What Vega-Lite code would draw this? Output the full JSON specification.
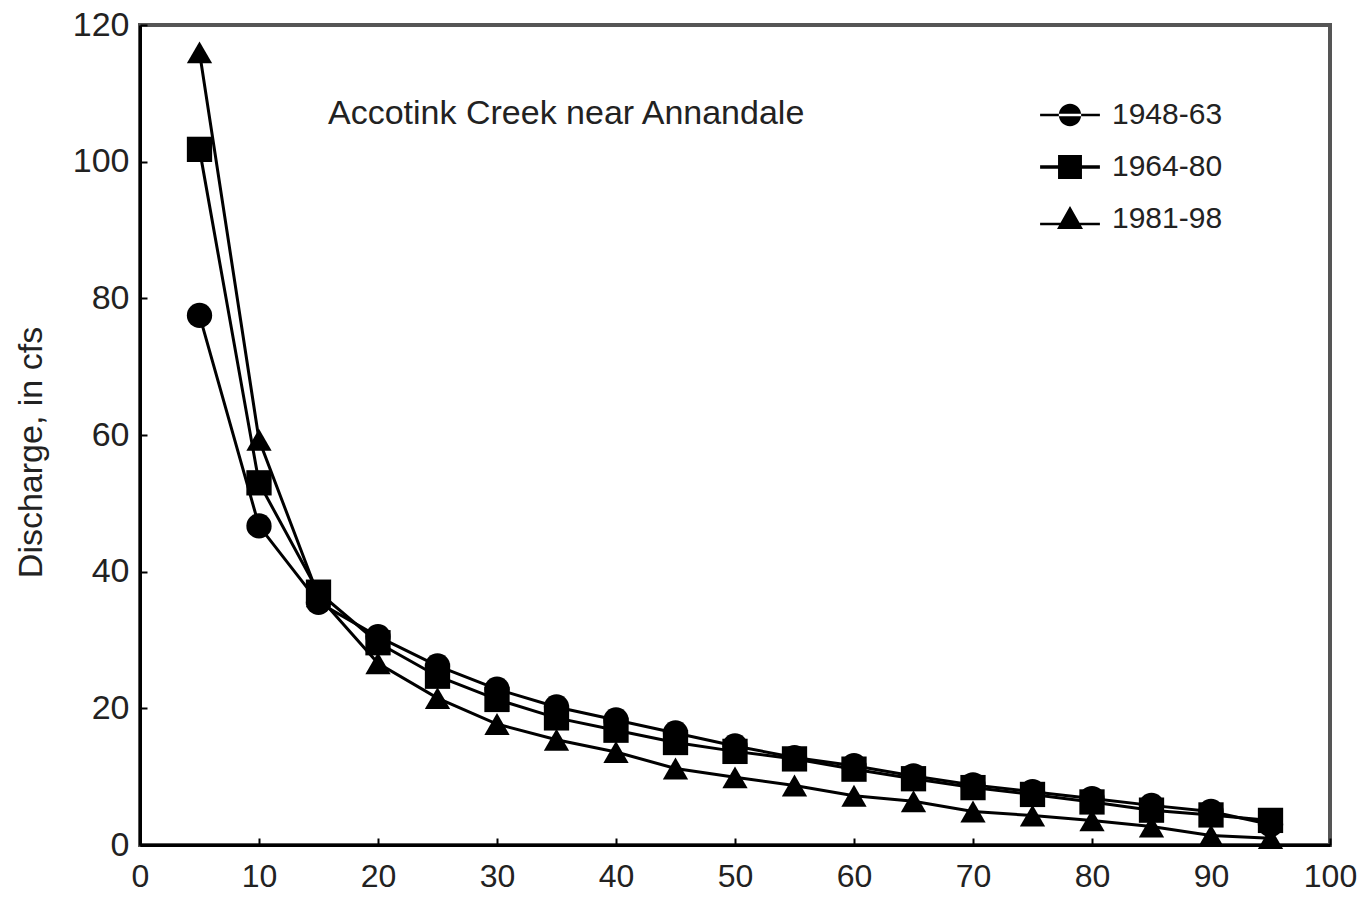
{
  "$schema": "https://vega.github.io/schema/vega-lite/v6.json",
  "width": 1190,
  "height": 820,
  "autosize": {"type": "none"},
  "padding": {"left": 140, "top": 25, "right": 39, "bottom": 52},
  "background": "white",
  "config": {
    "view": {"stroke": "#555", "strokeWidth": 4},
    "axis": {
      "domainColor": "black", "domainWidth": 3,
      "tickColor": "black", "tickWidth": 2, "tickSize": -7,
      "labelFont": "Liberation Sans", "labelFontSize": 34, "labelColor": "#222",
      "titleFont": "Liberation Sans", "titleFontSize": 34, "titleFontWeight": "normal", "titleColor": "#222",
      "grid": false
    }
  },
  "title": {
    "text": "Accotink Creek near Annandale",
    "anchor": "start", "frame": "group", "orient": "top",
    "font": "Liberation Sans", "fontSize": 34, "fontWeight": "normal", "color": "#222",
    "baseline": "alphabetic", "offset": 0, "dx": 188, "dy": 150
  },
  "data": {
    "values": [
      {"exceedance": 5, "discharge": 77.5, "period": "1948-63"},
      {"exceedance": 10, "discharge": 46.7, "period": "1948-63"},
      {"exceedance": 15, "discharge": 35.5, "period": "1948-63"},
      {"exceedance": 20, "discharge": 30.5, "period": "1948-63"},
      {"exceedance": 25, "discharge": 26.2, "period": "1948-63"},
      {"exceedance": 30, "discharge": 22.8, "period": "1948-63"},
      {"exceedance": 35, "discharge": 20.2, "period": "1948-63"},
      {"exceedance": 40, "discharge": 18.3, "period": "1948-63"},
      {"exceedance": 45, "discharge": 16.4, "period": "1948-63"},
      {"exceedance": 50, "discharge": 14.5, "period": "1948-63"},
      {"exceedance": 55, "discharge": 12.8, "period": "1948-63"},
      {"exceedance": 60, "discharge": 11.6, "period": "1948-63"},
      {"exceedance": 65, "discharge": 10.1, "period": "1948-63"},
      {"exceedance": 70, "discharge": 8.8, "period": "1948-63"},
      {"exceedance": 75, "discharge": 7.8, "period": "1948-63"},
      {"exceedance": 80, "discharge": 6.8, "period": "1948-63"},
      {"exceedance": 85, "discharge": 5.8, "period": "1948-63"},
      {"exceedance": 90, "discharge": 4.9, "period": "1948-63"},
      {"exceedance": 95, "discharge": 3.0, "period": "1948-63"},
      {"exceedance": 5, "discharge": 101.8, "period": "1964-80"},
      {"exceedance": 10, "discharge": 53.0, "period": "1964-80"},
      {"exceedance": 15, "discharge": 37.0, "period": "1964-80"},
      {"exceedance": 20, "discharge": 29.6, "period": "1964-80"},
      {"exceedance": 25, "discharge": 24.7, "period": "1964-80"},
      {"exceedance": 30, "discharge": 21.3, "period": "1964-80"},
      {"exceedance": 35, "discharge": 18.6, "period": "1964-80"},
      {"exceedance": 40, "discharge": 16.8, "period": "1964-80"},
      {"exceedance": 45, "discharge": 15.0, "period": "1964-80"},
      {"exceedance": 50, "discharge": 13.7, "period": "1964-80"},
      {"exceedance": 55, "discharge": 12.6, "period": "1964-80"},
      {"exceedance": 60, "discharge": 11.1, "period": "1964-80"},
      {"exceedance": 65, "discharge": 9.7, "period": "1964-80"},
      {"exceedance": 70, "discharge": 8.4, "period": "1964-80"},
      {"exceedance": 75, "discharge": 7.4, "period": "1964-80"},
      {"exceedance": 80, "discharge": 6.3, "period": "1964-80"},
      {"exceedance": 85, "discharge": 5.1, "period": "1964-80"},
      {"exceedance": 90, "discharge": 4.4, "period": "1964-80"},
      {"exceedance": 95, "discharge": 3.6, "period": "1964-80"},
      {"exceedance": 5, "discharge": 116.0, "period": "1981-98"},
      {"exceedance": 10, "discharge": 59.3, "period": "1981-98"},
      {"exceedance": 15, "discharge": 36.4, "period": "1981-98"},
      {"exceedance": 20, "discharge": 26.6, "period": "1981-98"},
      {"exceedance": 25, "discharge": 21.5, "period": "1981-98"},
      {"exceedance": 30, "discharge": 17.7, "period": "1981-98"},
      {"exceedance": 35, "discharge": 15.4, "period": "1981-98"},
      {"exceedance": 40, "discharge": 13.6, "period": "1981-98"},
      {"exceedance": 45, "discharge": 11.2, "period": "1981-98"},
      {"exceedance": 50, "discharge": 9.9, "period": "1981-98"},
      {"exceedance": 55, "discharge": 8.7, "period": "1981-98"},
      {"exceedance": 60, "discharge": 7.2, "period": "1981-98"},
      {"exceedance": 65, "discharge": 6.4, "period": "1981-98"},
      {"exceedance": 70, "discharge": 4.9, "period": "1981-98"},
      {"exceedance": 75, "discharge": 4.3, "period": "1981-98"},
      {"exceedance": 80, "discharge": 3.6, "period": "1981-98"},
      {"exceedance": 85, "discharge": 2.7, "period": "1981-98"},
      {"exceedance": 90, "discharge": 1.4, "period": "1981-98"},
      {"exceedance": 95, "discharge": 1.0, "period": "1981-98"}
    ]
  },
  "encoding": {
    "x": {
      "field": "exceedance", "type": "quantitative",
      "scale": {"domain": [0, 100], "nice": false},
      "axis": {"values": [0,10,20,30,40,50,60,70,80,90,100], "title": null, "labelFontSize": 32, "labelPadding": 23, "labelFlush": false}
    },
    "y": {
      "field": "discharge", "type": "quantitative",
      "scale": {"domain": [0, 120], "nice": false},
      "axis": {"values": [0,20,40,60,80,100,120], "title": "Discharge, in cfs", "labelPadding": 18, "titlePadding": 24, "titleY": 427, "labelFlush": false}
    }
  },
  "layer": [
    {
      "mark": {"type": "line", "stroke": "black", "strokeWidth": 3},
      "encoding": {"detail": {"field": "period", "type": "nominal"}}
    },
    {
      "mark": {"type": "point", "filled": true, "fill": "black", "opacity": 1, "size": 640, "strokeWidth": 0},
      "encoding": {
        "shape": {
          "field": "period", "type": "nominal",
          "scale": {"domain": ["1948-63", "1964-80", "1981-98"], "range": ["circle", "square", "triangle-up"]},
          "legend": null
        }
      }
    },
    {
      "mark": {"type": "point", "filled": true, "fill": "black", "opacity": 0, "size": 10},
      "encoding": {
        "shape": {
          "field": "period", "type": "nominal",
          "scale": {
            "domain": ["1948-63", "1964-80", "1981-98"],
            "range": [
              "M-1.15,-0.05L1.15,-0.05L1.15,0.05L-1.15,0.05Z M-0.43,0 A0.43,0.43 0 1,0 0.43,0 A0.43,0.43 0 1,0 -0.43,0 Z",
              "M-1.15,-0.07L1.15,-0.07L1.15,0.07L-1.15,0.07Z M-0.46,-0.46L0.46,-0.46L0.46,0.46L-0.46,0.46Z",
              "M-1.15,0.14L1.15,0.14L1.15,0.24L-1.15,0.24Z M0,-0.5L0.5,0.38L-0.5,0.38Z"
            ]
          },
          "legend": {
            "orient": "none", "legendX": 904, "legendY": 64, "title": null,
            "symbolSize": 2704, "symbolOpacity": 1, "symbolFillColor": "black", "symbolStrokeWidth": 0,
            "labelFont": "Liberation Sans", "labelFontSize": 30, "labelColor": "#222", "labelOffset": 16,
            "padding": 0, "rowPadding": 11
          }
        }
      }
    }
  ],
  "resolve": {"scale": {"shape": "independent"}}
}
